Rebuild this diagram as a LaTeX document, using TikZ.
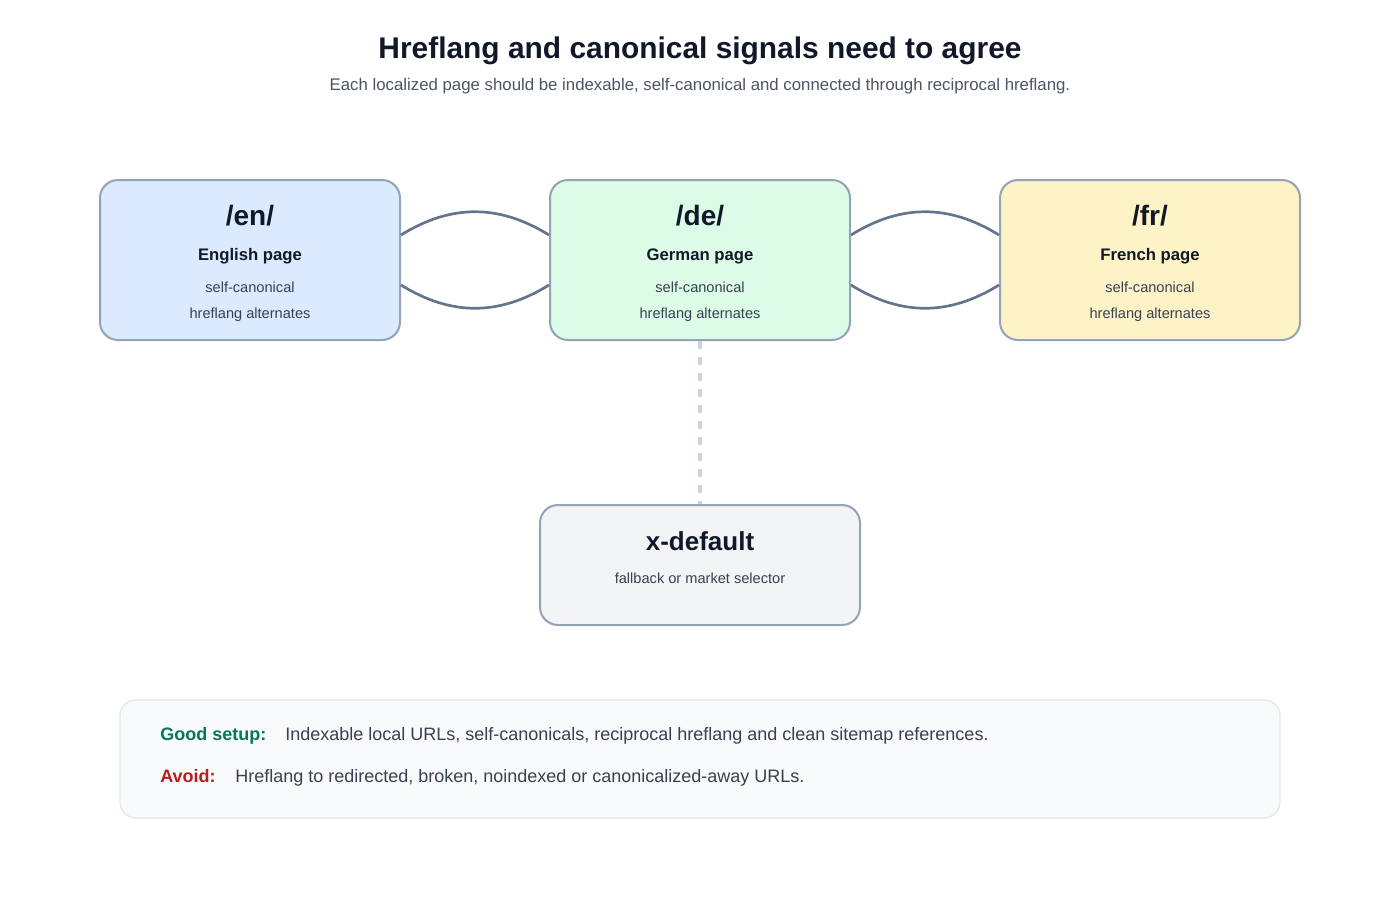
\documentclass[tikz,border=0pt]{standalone}
\usepackage{fontspec}
\setmainfont{Liberation Sans}
\usetikzlibrary{calc}

% colours
\definecolor{ink}{HTML}{111827}
\definecolor{subink}{HTML}{4B5563}
\definecolor{bodyink}{HTML}{374151}
\definecolor{edge}{HTML}{94A3B8}
\definecolor{link}{HTML}{64748B}
\definecolor{dashlink}{HTML}{CBD5E1}
\definecolor{enfill}{HTML}{DBEAFE}
\definecolor{defill}{HTML}{DCFCE7}
\definecolor{frfill}{HTML}{FEF3C7}
\definecolor{xfill}{HTML}{F3F4F6}
\definecolor{notefill}{HTML}{F8FAFC}
\definecolor{noteedge}{HTML}{E2E8F0}
\definecolor{goodink}{HTML}{047857}
\definecolor{badink}{HTML}{B91C1C}

% font sizes given in px (1px = 0.75pt)
\newcommand{\pxfont}[1]{\fontsize{\fpeval{0.75*#1}}{\fpeval{0.9*#1}}\selectfont}

\tikzset{
  pagebox/.style={draw=edge, line width=1.5pt, rounded corners=13.5pt,
    minimum width=225pt, minimum height=120pt, inner sep=0pt},
  codetext/.style={anchor=base, text=ink, font=\pxfont{28}\bfseries},
  nametext/.style={anchor=base, text=ink, font=\pxfont{16.7}\bfseries},
  smalltext/.style={anchor=base, text=bodyink, font=\pxfont{14.6}},
  hlink/.style={draw=link, line width=2pt},
  notetext/.style={anchor=base west, inner sep=0pt, font=\pxfont{18}},
}

\begin{document}
\begin{tikzpicture}[x=0.75pt, y=-0.75pt]
	% page size in px
	\useasboundingbox[fill=white] (0,0) rectangle (1400,900);
	
	% title
	\node[anchor=base, text=ink, font=\pxfont{29.9}\bfseries] (title) at (700,58) {Hreflang and canonical signals need to agree};
	\node[anchor=base, text=subink, font=\pxfont{16.8}] (subtitle) at (700,90) {Each localized page should be indexable, self-canonical and connected through reciprocal hreflang.};
	
	% the three localized pages
	\foreach \id/\x/\col/\code/\name in {en/250/enfill/{/en/}/English page, de/700/defill/{/de/}/German page, fr/1150/frfill/{/fr/}/French page}{
		\node[pagebox, fill=\col] (\id) at (\x,260) {};
		\node[codetext] (\id-code) at (\x,225) {\code};
		\node[nametext] (\id-name) at (\x,260) {\name};
		\node[smalltext] (\id-canon) at (\x,292) {self-canonical};
		\node[smalltext] (\id-alt) at (\x,318) {hreflang alternates};
	}
	
	% x-default page
	\node[pagebox, fill=xfill, minimum width=240pt, minimum height=90pt] (xdef) at (700,565) {};
	\node[anchor=base, text=ink, font=\pxfont{26}\bfseries] (xdef-code) at (700,550) {x-default};
	\node[smalltext] (xdef-note) at (700,583) {fallback or market selector};
	
	% reciprocal hreflang links
	\foreach \a/\b in {en/de, de/fr}{
		\draw[hlink] ($(\a.east)+(0,-25)$) .. controls +(50,-31) and +(-50,-31) .. ($(\b.west)+(0,-25)$);
		\draw[hlink] ($(\a.east)+(0,25)$) .. controls +(50,31) and +(-50,31) .. ($(\b.west)+(0,25)$);
	}
	
	% fallback link
	\draw[draw=dashlink, line width=2.5pt, dash pattern=on 6pt off 6pt] (de.south) -- (xdef.north);
	
	% notes
	\node[draw=noteedge, fill=notefill, line width=1pt, rounded corners=12pt, minimum width=870pt, minimum height=88.5pt] (notes) at (700,759) {};
	\node[notetext, text=goodink, font=\pxfont{18}\bfseries] (good-label) at (160,740) {Good setup:};
	\node[notetext, text=bodyink] (good-text) at (285,740) {Indexable local URLs, self-canonicals, reciprocal hreflang and clean sitemap references.};
	\node[notetext, text=badink, font=\pxfont{18}\bfseries] (bad-label) at (160,782) {Avoid:};
	\node[notetext, text=bodyink] (bad-text) at (235,782) {Hreflang to redirected, broken, noindexed or canonicalized-away URLs.};
\end{tikzpicture}
\end{document}
